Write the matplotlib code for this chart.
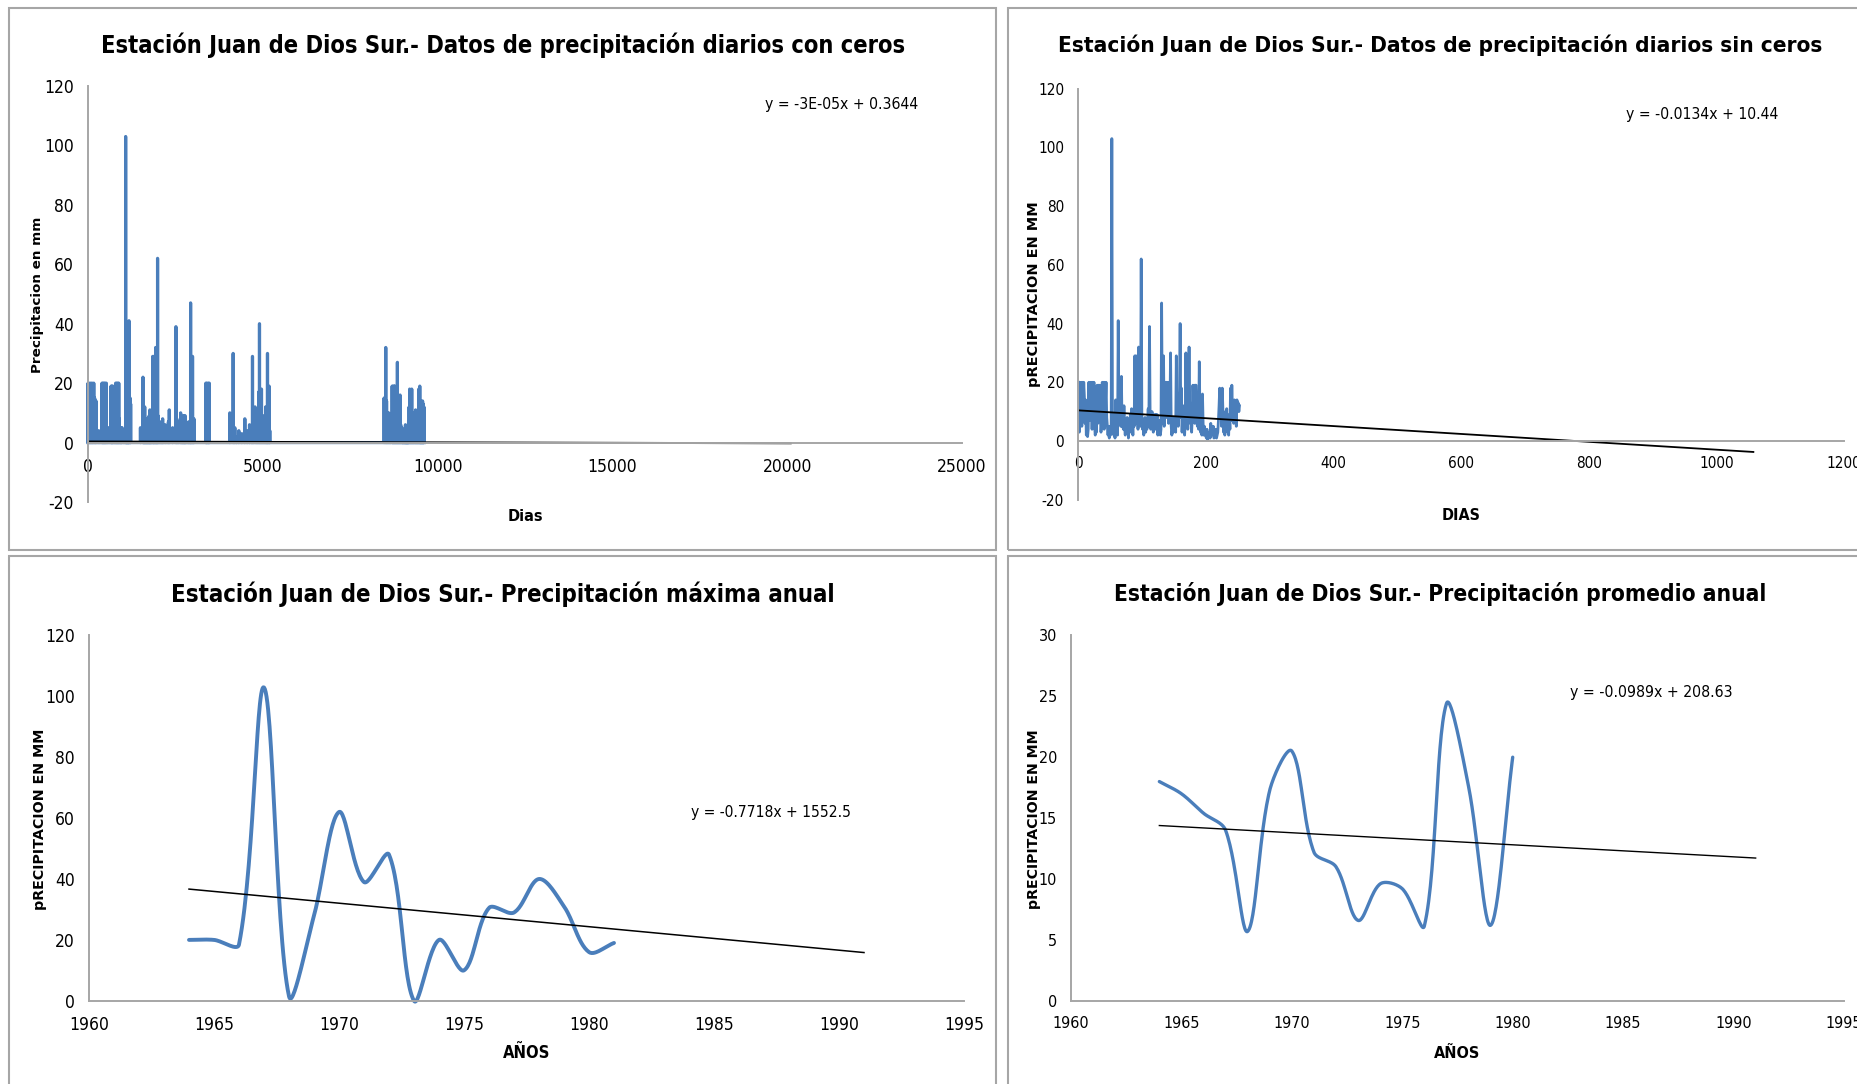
import os
import numpy as np
import matplotlib
matplotlib.use('Agg')
from matplotlib import pyplot as plt
from matplotlib import font_manager as fm
from matplotlib.patches import Rectangle

# dias con lluvia (desde el inicio del registro) y lluvia en mm
dias_lluvia = [
    2, 20, 40, 60, 80, 100, 120, 140, 165, 190, 210, 230, 260, 300, 330, 370,
    400, 415, 430, 445, 460, 475, 490, 505, 525, 545, 570, 600, 630,
    660, 672, 684, 696, 710, 725, 750, 770,
    790, 805, 820, 835, 850, 865, 880, 895, 915, 930, 945, 960, 975, 1020, 1050,
    1077, 1085, 1095, 1105, 1115, 1125, 1135, 1145, 1155, 1163, 1172, 1190, 1205, 1220,
    1500, 1572, 1585, 1598, 1610, 1622, 1635, 1647, 1660, 1672, 1685, 1697, 1710, 1722,
    1735, 1748, 1760, 1770, 1782, 1795, 1808, 1825,
    1850, 1862, 1875, 1888, 1905, 1920, 1935, 1950, 1962, 1975, 1990, 2005, 2030, 2060,
    2090, 2115, 2135, 2170, 2210, 2260, 2300, 2325, 2420,
    2515, 2540, 2570, 2600, 2650, 2670, 2690, 2705, 2725, 2740, 2755, 2770, 2780, 2800,
    2830, 2860, 2880, 2900, 2920, 2935, 2950, 2970, 2990, 3010, 3030,
    3370, 3385, 3400, 3420, 3440, 3455, 3470,
    4057, 4152, 4200, 4250, 4314, 4400, 4486, 4550, 4620, 4680, 4705, 4740, 4780, 4820,
    4848, 4880, 4905, 4930, 4962, 4990, 5020, 5050, 5080, 5100, 5120, 5134, 5160, 5181, 5200,
    8470, 8517, 8540, 8570, 8600, 8630, 8660, 8700, 8715, 8730, 8745, 8760, 8775, 8790,
    8805, 8820, 8835, 8850, 8865, 8880, 8895, 8910, 8927, 8945, 8960, 8980,
    8990, 9000, 9010, 9020, 9030, 9040, 9050, 9060, 9070, 9080, 9088, 9095, 9103, 9110,
    9118, 9125, 9132, 9140, 9148, 9155, 9162, 9170,
    9185, 9200, 9215, 9230, 9245, 9260, 9275, 9290, 9305, 9320, 9340, 9355, 9370, 9385,
    9400, 9415, 9430, 9445, 9460, 9475, 9490, 9500, 9510, 9520, 9530, 9540, 9550, 9560,
    9570, 9580, 9590, 9600, 9610,
]
lluvia_mm = [
    20, 3, 20, 8, 20, 5, 20, 12, 20, 15, 6, 14, 2, 4, 1.5, 4,
    20, 7, 20, 10, 20, 4, 20, 9, 20, 5, 2, 5, 3,
    19, 6, 19, 11, 19, 8, 3, 6,
    20, 9, 20, 4, 20, 13, 20, 8, 5, 2, 5, 1, 5, 2, 4,
    103, 3, 9, 2, 6, 1, 14, 4, 8, 2, 41, 6, 15, 13,
    5, 22, 5, 9, 4, 12, 5, 2, 6, 3, 8, 5, 1, 7,
    4, 9, 3, 11, 6, 2, 8, 5,
    29, 10, 29, 6, 12, 4, 32, 8, 15, 5, 62, 9, 4, 7,
    2, 5, 8, 3, 6, 4, 7, 11, 5,
    39, 8, 4, 7, 10, 5, 3, 8, 9, 4, 9, 6, 9, 2,
    5, 3, 7, 2, 4, 47, 10, 6, 29, 5, 8,
    20, 8, 20, 12, 20, 6, 20,
    10, 30, 5, 2, 4, 3, 8, 4, 6, 3, 29, 7, 12, 5,
    10, 17, 40, 8, 18, 3, 9, 5, 12, 2, 7, 30, 10, 19, 4,
    15, 32, 14, 6, 10, 3, 8, 19, 12, 19, 6, 19, 19, 9,
    5, 14, 4, 27, 10, 3, 8, 2, 16, 6, 2, 5,
    2, 2.6, 1, 4, 0.5, 1, 3, 3, 1, 6, 2, 2, 4, 5,
    1, 1.5, 3, 4, 1, 2, 3, 7,
    12, 18, 8, 17, 5, 18, 10, 3, 8, 2, 10, 5, 11, 3,
    6, 2, 9, 4, 18, 7, 19, 10, 13, 6, 14, 8, 13, 5,
    14, 12, 13, 10, 12,
]
assert len(dias_lluvia) == len(lluvia_mm)
ultimo_dia = 9620

anios_max = [1964, 1965, 1966, 1967, 1968, 1969, 1970, 1971, 1972,
             1973, 1974, 1975, 1976, 1977, 1978, 1979, 1980, 1981]
prec_max = [20, 20, 18.5, 102.9, 1.5, 28, 62, 39, 48,
            0, 20, 10, 30.5, 29, 40, 31, 16, 19]

anios_prom = [1964, 1965, 1966, 1967, 1968, 1969, 1970, 1971, 1972,
              1973, 1974, 1975, 1976, 1977, 1978, 1979, 1980]
prec_prom = [18.0, 17.0, 15.4, 14.0, 5.7, 17.3, 20.5, 12.2, 11.0,
             6.6, 9.6, 9.2, 6.15, 24.4, 17.6, 6.2, 20.0]

# lineas de tendencia (pendiente, ordenada, rango x)
tend_con_ceros = (-3e-05, 0.3644, [0, 20100])
tend_sin_ceros = (-0.0134, 10.44, [0, 1058])
tend_max = (-0.7718, 1552.5, [1964, 1991])
tend_prom = (-0.0989, 208.63, [1964, 1991])

titulos = ["Estación Juan de Dios Sur.- Datos de precipitación diarios con ceros",
           "Estación Juan de Dios Sur.- Datos de precipitación diarios sin ceros",
           "Estación Juan de Dios Sur.- Precipitación máxima anual",
           "Estación Juan de Dios Sur.- Precipitación promedio anual"]
ecuaciones = ["y = -3E-05x + 0.3644", "y = -0.0134x + 10.44",
              "y = -0.7718x + 1552.5", "y = -0.0989x + 208.63"]

AZUL = '#4a7ebb'
GRIS = '#a6a6a6'
W, H = 1857, 1084


def fuente_estrecha(negrita):
    # busca una fuente condensada instalada, si no hay usa Liberation Sans
    archivos = {os.path.basename(f.fname): f.fname for f in fm.fontManager.ttflist}
    if negrita:
        prefer = ['LiberationSansNarrow-Bold.ttf', 'DejaVuSansCondensed-Bold.ttf']
    else:
        prefer = ['LiberationSansNarrow-Regular.ttf', 'DejaVuSansCondensed.ttf']
    for p in prefer:
        if p in archivos:
            return fm.FontProperties(fname=archivos[p])
    return fm.FontProperties(family=['Liberation Sans', 'DejaVu Sans'],
                             weight='bold' if negrita else 'normal')


FP_NORMAL = fuente_estrecha(False)
FP_NEGRITA = fuente_estrecha(True)
FP_ANCHA = fm.FontProperties(family='DejaVu Sans', weight='bold')


def caja(x0, x1, ytop, ybot):
    return [x0 / W, 1 - ybot / H, (x1 - x0) / W, (ybot - ytop) / H]


def suave(x, y, sx, sy, pasos=30):
    # curva suavizada tipo Excel: bezier con tangentes repartidas segun la
    # longitud de cada tramo en pantalla
    P = np.column_stack([np.asarray(x, float) * sx, np.asarray(y, float) * sy])
    n = len(P)
    c_izq = P.copy()
    c_der = P.copy()
    for i in range(n):
        a = P[max(i - 1, 0)]
        b = P[min(i + 1, n - 1)]
        T = b - a
        d1 = np.hypot(*(P[i] - a))
        d2 = np.hypot(*(b - P[i]))
        tot = d1 + d2
        if tot == 0:
            continue
        c_izq[i] = P[i] - T * d1 / tot / 3
        c_der[i] = P[i] + T * d2 / tot / 3
    t = np.linspace(0, 1, pasos, endpoint=False)[:, None]
    trozos = []
    for i in range(n - 1):
        p0, p1, p2, p3 = P[i], c_der[i], c_izq[i + 1], P[i + 1]
        trozos.append((1 - t) ** 3 * p0 + 3 * (1 - t) ** 2 * t * p1
                      + 3 * (1 - t) * t ** 2 * p2 + t ** 3 * p3)
    trozos.append(P[-1:])
    Q = np.vstack(trozos)
    return Q[:, 0] / sx, Q[:, 1] / sy


def ejes(ax, tam, xt, yt, cero=False):
    for lado in ('top', 'right'):
        ax.spines[lado].set_visible(False)
    for lado in ('left', 'bottom'):
        ax.spines[lado].set_color(GRIS)
        ax.spines[lado].set_linewidth(1.4)
    if cero:
        ax.spines['bottom'].set_position(('data', 0))
    fp = FP_NORMAL.copy()
    fp.set_size(tam)
    ax.set_xticks(xt, labels=[str(v) for v in xt], fontproperties=fp)
    ax.set_yticks(yt, labels=[str(v) for v in yt], fontproperties=fp)
    ax.tick_params(length=0, colors='black')
    ax.tick_params(axis='x', pad=11)
    ax.tick_params(axis='y', pad=10)
    ax.set_facecolor('none')


fig = plt.figure(figsize=(W / 100, H / 100), dpi=100)
fig.patch.set_facecolor('white')

# marcos de cada grafico
for (x0, y0, x1, y1) in [(9, 8, 996, 550), (1008, 8, 1870, 550),
                         (9, 556, 996, 1100), (1008, 556, 1870, 1100)]:
    fig.add_artist(Rectangle((x0 / W, 1 - y1 / H), (x1 - x0) / W, (y1 - y0) / H,
                             transform=fig.transFigure, fill=False, ec=GRIS, lw=1.5))

# --- diarios con ceros
ax1 = fig.add_axes(caja(88, 962, 86, 502))
dias = np.arange(ultimo_dia + 1)
serie = np.zeros(len(dias))
serie[dias_lluvia] = lluvia_mm
ax1.plot(dias, serie, color=AZUL, lw=2.3, solid_joinstyle='round')
m, b, xr = tend_con_ceros
xr = np.array(xr, float)
ax1.plot(xr, m * xr + b, color='black', lw=1.4)
ax1.set_xlim(0, 25000)
ax1.set_ylim(-20, 120)
ejes(ax1, 12.5, list(range(0, 25001, 5000)), list(range(-20, 121, 20)), cero=True)

# --- diarios sin ceros
ax2 = fig.add_axes(caja(1078, 1844, 88.7, 499.7))
orden = np.arange(1, len(lluvia_mm) + 1)
ax2.plot(orden, lluvia_mm, color=AZUL, lw=2.0, solid_joinstyle='round')
m, b, xr = tend_sin_ceros
xr = np.array(xr, float)
ax2.plot(xr, m * xr + b, color='black', lw=1.3)
ax2.set_xlim(0, 1200)
ax2.set_ylim(-20, 120)
ejes(ax2, 11, list(range(0, 1201, 200)), list(range(-20, 121, 20)), cero=True)

# --- maxima anual
ax3 = fig.add_axes(caja(89, 964, 635.4, 1000.8))
xs, ys = suave(anios_max, prec_max, 875 / 35, 365.4 / 120)
ax3.plot(xs, ys, color=AZUL, lw=2.8, solid_capstyle='round')
m, b, xr = tend_max
xr = np.array(xr, float)
ax3.plot(xr, m * xr + b, color='black', lw=1.1)
ax3.set_xlim(1960, 1995)
ax3.set_ylim(0, 120)
ejes(ax3, 12.5, list(range(1960, 1996, 5)), list(range(0, 121, 20)))

# --- promedio anual
ax4 = fig.add_axes(caja(1071, 1844, 635.4, 1000.8))
xs, ys = suave(anios_prom, prec_prom, 773 / 35, 365.4 / 30)
ax4.plot(xs, ys, color=AZUL, lw=2.4, solid_capstyle='round')
m, b, xr = tend_prom
xr = np.array(xr, float)
ax4.plot(xr, m * xr + b, color='black', lw=1.0)
ax4.set_xlim(1960, 1995)
ax4.set_ylim(0, 30)
ejes(ax4, 11.5, list(range(1960, 1996, 5)), list(range(0, 31, 5)))

for ax in (ax1, ax2, ax3, ax4):
    for l in ax.lines:
        l.set_clip_on(False)

# textos: (x, y, texto, tamaño objetivo en px (negativo = alto), factor)
pendientes = []


def texto(x, y, s, objetivo, factor, fp, **kw):
    t = fig.text(x / W, 1 - y / H, s, fontproperties=fp.copy(), **kw)
    pendientes.append((t, objetivo, factor))
    return t


for (cx, cy), tit, ancho, f in zip([(503, 45), (1440, 45.6), (503, 593.8), (1440, 593.8)],
                                   titulos, [758, 661, 626, 565], [1.06, 1.15, 1.06, 1.15]):
    texto(cx, cy, tit, ancho, f, FP_NEGRITA, ha='center', va='center')

for (x0, cy), ec, ancho, f in zip([(765, 104.5), (1626, 114.7), (691, 813), (1570, 692.7)],
                                  ecuaciones, [127, 109, 133, 116], [1.2, 1.4, 1.2, 1.4]):
    texto(x0, cy, ec, ancho, f, FP_NORMAL, ha='left', va='center')

for (cx, cy), et, ancho, f in zip([(525, 517), (1461, 516), (527, 1053), (1457, 1053)],
                                  ['Dias', 'DIAS', 'AÑOS', 'AÑOS'], [27, 26, 38, 32],
                                  [1.3, 1.5, 1.25, 1.45]):
    texto(cx, cy, et, ancho, f, FP_NEGRITA, ha='center', va='center')

for (cx, cy), et, alto in zip([(38, 295), (1034, 294), (40, 819), (1034, 819)],
                              ['Precipitacion en mm', 'pRECIPITACION EN MM',
                               'pRECIPITACION EN MM', 'pRECIPITACION EN MM'],
                              [155, 184, 181, 180]):
    texto(cx, cy, et, -alto, 1.0, FP_ANCHA, ha='center', va='center', rotation=90)

fig.canvas.draw()
rend = fig.canvas.get_renderer()
for t, objetivo, factor in pendientes:
    t.set_fontsize(12)
    bb = t.get_window_extent(rend)
    medida = bb.width if objetivo > 0 else bb.height
    t.set_fontsize(12 * abs(objetivo) / medida * factor)

fig.savefig('out.png', dpi=100, facecolor='white')
